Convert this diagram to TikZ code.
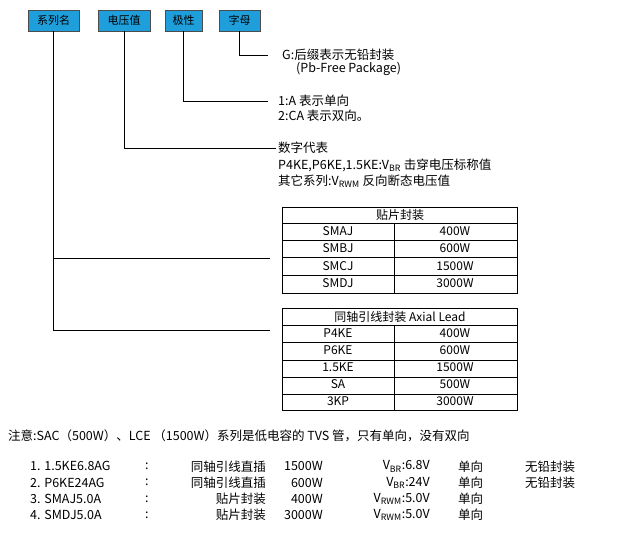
\documentclass[tikz,border=0pt]{standalone}
\usepackage{fontspec}
\setmainfont{Noto Sans CJK SC}
\usetikzlibrary{calc}
\definecolor{tagblue}{HTML}{1E9FDC}

\begin{document}
\begin{tikzpicture}[x=1pt,y=-1pt,
  tag/.style={draw=black!70,fill=tagblue,font=\fontsize{11}{12}\selectfont,inner sep=0pt,minimum height=21pt,anchor=north west},
  txt/.style={anchor=west,inner sep=0pt,font=\fontsize{12.5}{13}\selectfont},
  cell/.style={anchor=center,inner sep=0pt,font=\fontsize{12}{13}\selectfont}]

  \useasboundingbox (0,0) rectangle (640,543);

  % the four tags
  \node[tag,minimum width=51pt] (serie) at (28,10) {系列名};
  \node[tag,minimum width=52pt] (volt) at (98,10) {电压值};
  \node[tag,minimum width=37pt] (pol) at (165,10) {极性};
  \node[tag,minimum width=41pt] (lett) at (219,10) {字母};

  % texts on the right
  \node[txt] (gtxt) at (282,55) {G:后缀表示无铅封装};
  \node[txt] at (296,69) {(Pb-Free Package)};
  \node[txt] (atxt) at (278,101) {1:A 表示单向};
  \node[txt] at (278,116) {2:CA 表示双向。};
  \node[txt] (ntxt) at (278,148) {数字代表};
  \node[txt] at (278,165) {P4KE,P6KE,1.5KE:V\textsubscript{BR} 击穿电压标称值};
  \node[txt] at (278,181) {其它系列:V\textsubscript{RWM} 反向断态电压值};

  % connectors
  \draw[thick] (lett.south) |- ([xshift=-14pt]gtxt.west);
  \draw[thick] (pol.south) |- ([xshift=-10pt]atxt.west);
  \draw[thick] (volt.south) |- ([xshift=-2pt]ntxt.west);
  \coordinate (b1) at (270,258);
  \coordinate (b2) at (270,330);
  \draw[thick] (serie.south) |- (b2);
  \draw[thick] (serie.south |- b1) -- (b1);

  % table 1
  \draw (282,207) rectangle (517,293);
  \foreach \y in {223,240,257,275} \draw (282,\y) -- (517,\y);
  \draw (394,223) -- (394,293);
  \node[cell] at (400,215) {贴片封装};
  \foreach \a/\b [count=\i] in {SMAJ/400W,SMBJ/600W,SMCJ/1500W,SMDJ/3000W}
    \node[cell] at (338,{214+17.3*\i}) {\a} node[cell] at (455,{214+17.3*\i}) {\b};

  % table 2
  \draw (282,308) rectangle (517,410);
  \foreach \y in {325,342,360,377,394} \draw (282,\y) -- (517,\y);
  \draw (394,325) -- (394,410);
  \node[cell] at (400,317) {同轴引线封装 Axial Lead};
  \foreach \a/\b [count=\i] in {P4KE/400W,P6KE/600W,1.5KE/1500W,SA/500W,3KP/3000W}
    \node[cell] at (338,{316.5+17*\i}) {\a} node[cell] at (455,{316.5+17*\i}) {\b};

  % note
  \node[txt] at (8,436) {注意:SAC（500W）、LCE （1500W）系列是低电容的 TVS 管，只有单向，没有双向};

  % examples
  \foreach \n/\p/\w/\v/\u/\f [count=\i] in
    {1. 1.5KE6.8AG/同轴引线直插/1500W/V\textsubscript{BR}:6.8V/单向/无铅封装,
     2. P6KE24AG/同轴引线直插/600W/V\textsubscript{BR}:24V/单向/无铅封装,
     3. SMAJ5.0A/贴片封装/400W/V\textsubscript{RWM}:5.0V/单向/,
     4. SMDJ5.0A/贴片封装/3000W/V\textsubscript{RWM}:5.0V/单向/} {
    \node[txt] at (30,{450+16.3*\i}) {\n};
    \node[txt] at (145,{450+16.3*\i}) {:};
    \node[txt,anchor=east] at (266,{450+16.3*\i}) {\p};
    \node[txt,anchor=east] at (323,{450+16.3*\i}) {\w};
    \node[txt,anchor=east] at (430,{450+16.3*\i}) {\v};
    \node[txt] at (458,{450+16.3*\i}) {\u};
    \node[txt] at (525,{450+16.3*\i}) {\f};
  }
\end{tikzpicture}
\end{document}
